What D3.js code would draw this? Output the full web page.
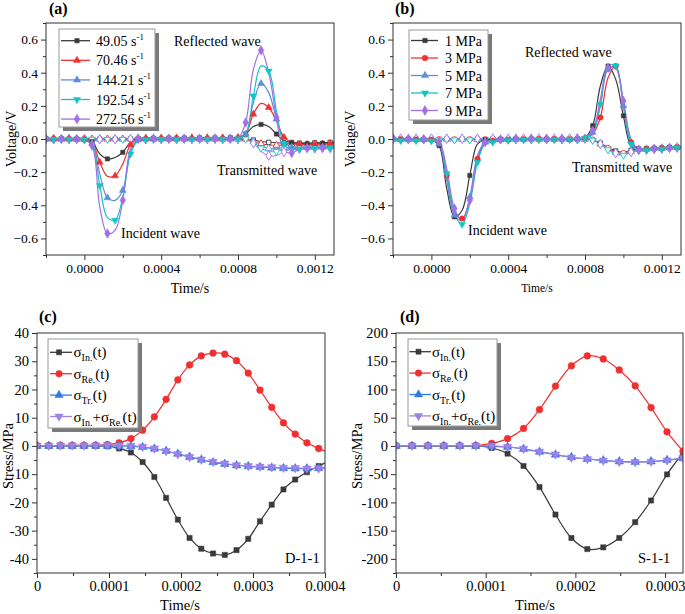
<!DOCTYPE html>
<html><head><meta charset="utf-8">
<script src="https://cdn.jsdelivr.net/npm/d3@7"></script>
<style>
body{margin:0;background:#fff}
svg{display:block}
text{font-family:"Liberation Serif","Times New Roman",serif;fill:#000}
</style>
</head><body>
<svg id="chart" width="685" height="614"></svg>
<script>
// ---------------- DATA ----------------
// Panels (a) and (b): shared time grid (s)
const timeAB = [-0.0002,-0.00016,-0.00012,-0.00008,-0.00004,0,0.00004,0.00008,0.00012,0.00016,0.0002,0.00024,0.00028,0.00032,0.00036,0.0004,0.00044,0.00048,0.00052,0.00056,0.0006,0.00064,0.00068,0.00072,0.00076,0.0008,0.00084,0.00088,0.00092,0.00096,0.001,0.00104,0.00108,0.00112,0.00116,0.0012,0.00124,0.00128,0.00132];

// (a) strain-rate series labels
const labelsA = ["49.05","70.46","144.21","192.54","272.56"];
// (a) incident + reflected waves (V)
const a_49  = [0.002,0.001,0.002,0.001,0,-0.002,-0.015,-0.09,-0.12,-0.112,-0.08,-0.02,0.003,0.004,0.005,0.005,0.006,0.006,0.006,0.007,0.007,0.007,0.007,0.008,0.008,0.01,0.03,0.075,0.088,0.075,0.03,-0.01,-0.02,-0.025,-0.028,-0.027,-0.025,-0.022,-0.02];
const a_70  = [0.001,0.002,0.001,0.002,0.001,-0.002,-0.02,-0.14,-0.225,-0.222,-0.15,-0.035,0.002,0.004,0.005,0.006,0.006,0.007,0.007,0.007,0.008,0.008,0.008,0.008,0.009,0.01,0.03,0.15,0.215,0.19,0.11,0.01,-0.02,-0.03,-0.032,-0.03,-0.03,-0.028,-0.027];
const a_144 = [0,0.001,0,0.001,0,-0.003,-0.025,-0.21,-0.355,-0.37,-0.31,-0.08,-0.005,0,0.002,0.003,0.003,0.003,0.004,0.004,0.004,0.004,0.005,0.005,0.005,0.006,0.03,0.22,0.335,0.28,0.12,-0.01,-0.05,-0.055,-0.052,-0.05,-0.05,-0.048,-0.047];
const a_192 = [-0.002,-0.003,-0.003,-0.002,-0.003,-0.004,-0.03,-0.28,-0.475,-0.49,-0.35,-0.09,-0.01,-0.004,-0.002,-0.002,-0.002,-0.001,-0.001,-0.001,-0.001,0,0,0,0,0.002,0.03,0.26,0.44,0.41,0.17,-0.03,-0.065,-0.06,-0.058,-0.057,-0.056,-0.055,-0.055];
const a_272 = [0.001,0.001,0.001,0.001,0,-0.004,-0.04,-0.41,-0.57,-0.55,-0.37,-0.06,0.004,0.003,0.003,0.002,0.002,0.002,0.002,0.002,0.002,0.002,0.002,0.002,0.002,0.004,0.1,0.42,0.535,0.4,0.13,-0.07,-0.085,-0.06,-0.055,-0.055,-0.055,-0.055,-0.055];
// (a) transmitted waves (V)
const aT_49  = [0.001,0,0.001,0,0.001,0,0.001,0,0.001,0,0.001,0,0.001,0,0.001,0,0.001,0,0.001,0,0.001,0,0.001,0,0.001,0,0,-0.006,-0.015,-0.02,-0.023,-0.025,-0.025,-0.025,-0.024,-0.023,-0.022,-0.02,-0.02];
const aT_70  = [0,0.001,0,0.001,0,0.001,0,0.001,0,0.001,0,0.001,0,0.001,0,0.001,0,0.001,0,0.001,0,0.001,0,0.001,0,0,0,-0.01,-0.028,-0.036,-0.038,-0.037,-0.035,-0.034,-0.033,-0.032,-0.031,-0.03,-0.03];
const aT_144 = [-0.001,0,-0.001,0,-0.001,0,-0.001,0,-0.001,0,-0.001,0,-0.001,0,-0.001,0,-0.001,0,-0.001,0,-0.001,0,-0.001,0,-0.001,0,0,-0.015,-0.042,-0.056,-0.058,-0.053,-0.05,-0.05,-0.05,-0.05,-0.048,-0.047,-0.046];
const aT_192 = [-0.002,-0.001,-0.002,-0.001,-0.002,-0.001,-0.002,-0.001,-0.002,-0.001,-0.002,-0.001,-0.002,-0.001,-0.002,-0.001,-0.002,-0.001,-0.002,-0.001,-0.002,-0.001,-0.002,-0.001,-0.002,-0.001,0,-0.02,-0.055,-0.075,-0.075,-0.063,-0.058,-0.056,-0.055,-0.055,-0.054,-0.053,-0.052];
const aT_272 = [0,-0.001,0,-0.001,0,-0.001,0,-0.001,0,-0.001,0,-0.001,0,-0.001,0,-0.001,0,-0.001,0,-0.001,0,-0.001,0,-0.001,0,-0.001,-0.002,-0.025,-0.075,-0.1,-0.1,-0.078,-0.062,-0.058,-0.056,-0.055,-0.055,-0.054,-0.053];

// (b) confining-pressure series labels
const labelsB = ["1 MPa","3 MPa","5 MPa","7 MPa","9 MPa"];
const b_1 = [0.003,0.001,0,-0.002,-0.003,-0.005,-0.04,-0.3,-0.47,-0.43,-0.22,-0.03,-0.005,-0.004,-0.002,0,0.001,0.001,0.001,0,0,0,0,0.001,0.002,0.008,0.08,0.32,0.44,0.36,0.14,-0.04,-0.06,-0.058,-0.055,-0.052,-0.05,-0.047,-0.045];
const b_3 = [0,-0.002,-0.002,-0.003,-0.004,-0.005,-0.02,-0.22,-0.44,-0.48,-0.37,-0.12,-0.02,-0.01,-0.006,-0.004,-0.002,-0.001,0,0,0,0,0,-0.001,0,0.004,0.03,0.13,0.37,0.44,0.22,-0.02,-0.055,-0.06,-0.058,-0.055,-0.052,-0.05,-0.047];
const b_5 = [-0.002,-0.003,-0.003,-0.004,-0.004,-0.006,-0.03,-0.25,-0.46,-0.49,-0.35,-0.1,-0.02,-0.012,-0.006,-0.003,-0.002,-0.001,0,0,0,0,0,0,0.001,0.005,0.04,0.2,0.42,0.43,0.2,-0.02,-0.06,-0.06,-0.057,-0.055,-0.052,-0.05,-0.047];
const b_7 = [-0.008,-0.01,-0.01,-0.01,-0.01,-0.012,-0.02,-0.21,-0.45,-0.515,-0.39,-0.14,-0.03,-0.02,-0.012,-0.008,-0.006,-0.004,-0.003,-0.003,-0.003,-0.003,-0.003,-0.002,0,0.004,0.03,0.21,0.44,0.44,0.2,-0.03,-0.07,-0.068,-0.064,-0.06,-0.056,-0.053,-0.05];
const b_9 = [0.006,0.004,0.003,0.001,0,-0.003,-0.015,-0.18,-0.42,-0.49,-0.37,-0.11,-0.02,-0.008,-0.002,0.002,0.004,0.004,0.004,0.004,0.003,0.003,0.003,0.004,0.005,0.01,0.05,0.24,0.43,0.43,0.23,0,-0.065,-0.065,-0.06,-0.057,-0.053,-0.05,-0.047];
const bT_1 = [0.002,0,0.002,0,0.002,0,0.002,0,0.002,0,0.002,0,0.002,0,0.002,0,0.002,0,0.002,0,0.002,0,0.002,0,0.002,0,-0.005,-0.025,-0.05,-0.072,-0.078,-0.068,-0.06,-0.058,-0.056,-0.054,-0.052,-0.05,-0.048];
const bT_3 = [-0.002,0,-0.002,0,-0.002,0,-0.002,0,-0.002,0,-0.002,0,-0.002,0,-0.002,0,-0.002,0,-0.002,0,-0.002,0,-0.002,0,-0.002,0,-0.004,-0.028,-0.055,-0.078,-0.085,-0.072,-0.063,-0.06,-0.058,-0.056,-0.053,-0.05,-0.048];
const bT_5 = [-0.003,-0.002,-0.003,-0.002,-0.003,-0.002,-0.003,-0.002,-0.003,-0.002,-0.003,-0.002,-0.003,-0.002,-0.003,-0.002,-0.003,-0.002,-0.003,-0.002,-0.003,-0.002,-0.003,-0.002,-0.003,-0.002,-0.006,-0.03,-0.058,-0.082,-0.09,-0.075,-0.066,-0.062,-0.06,-0.057,-0.054,-0.051,-0.049];
const bT_7 = [-0.006,-0.005,-0.006,-0.005,-0.006,-0.005,-0.006,-0.005,-0.006,-0.005,-0.006,-0.005,-0.006,-0.005,-0.006,-0.005,-0.006,-0.005,-0.006,-0.005,-0.006,-0.005,-0.006,-0.005,-0.006,-0.005,-0.008,-0.034,-0.065,-0.09,-0.098,-0.08,-0.07,-0.066,-0.063,-0.06,-0.057,-0.054,-0.051];
const bT_9 = [0.004,0.002,0.004,0.002,0.004,0.002,0.004,0.002,0.004,0.002,0.004,0.002,0.004,0.002,0.004,0.002,0.004,0.002,0.004,0.002,0.004,0.002,0.004,0.002,0.004,0.002,-0.005,-0.03,-0.06,-0.085,-0.095,-0.078,-0.068,-0.064,-0.061,-0.058,-0.055,-0.052,-0.049];

// (c) specimen D-1-1: time (s) and stresses (MPa)
const timeC = [0,0.0000163,0.0000326,0.0000489,0.0000652,0.0000815,0.0000978,0.0001141,0.0001304,0.0001467,0.000163,0.0001793,0.0001956,0.0002119,0.0002282,0.0002445,0.0002608,0.0002771,0.0002934,0.0003097,0.000326,0.0003423,0.0003586,0.0003749,0.0003912,0.0004075];
const c_in  = [0,0,0,0,0,0,-0.1,-0.9,-2.3,-5.7,-11,-18.4,-26.1,-32.6,-36.4,-38.1,-38.6,-36.9,-32.9,-26.7,-20.8,-15.4,-11.9,-9.3,-7.1,-5.2];
const c_re  = [0.1,0.1,0.2,0.2,0.2,0.3,0.5,1.1,2.6,5.6,10.3,16.5,23.4,28.7,31.9,32.9,32.5,30.2,25.8,19.8,13.7,8.2,4.2,1.1,-0.9,-2.5];
const c_tr  = [0,0,0,0,0,0,0,0,-0.1,-0.4,-1.0,-1.8,-2.8,-3.9,-4.9,-5.8,-6.4,-6.9,-7.2,-7.5,-7.7,-7.9,-8.0,-8.0,-7.9,-7.6];
const c_sum = [0.1,0.1,0.2,0.2,0.2,0.2,0.3,0.2,0.1,-0.3,-0.9,-1.8,-2.9,-3.9,-4.8,-5.6,-6.2,-6.8,-7.1,-7.3,-7.5,-7.7,-7.8,-8.0,-7.9,-7.6];

// (d) specimen S-1-1
const timeD = [0,0.0000178,0.0000356,0.0000533,0.0000711,0.0000889,0.0001067,0.0001244,0.0001422,0.00016,0.0001778,0.0001956,0.0002133,0.0002311,0.0002489,0.0002667,0.0002844,0.0003022,0.00032];
const d_in  = [0,0,0,0,0,0,-3.6,-13.6,-35.5,-72.9,-121.5,-163,-182.6,-179.6,-163,-135,-96.6,-50.4,-12];
const d_re  = [0.5,0.5,0.5,0.5,0.5,0.8,4.5,13,31,64.5,106,142,159.5,154,134.5,106.5,68,25,-9];
const d_tr  = [0,0,0,0,0,0,-0.5,-1.8,-5.5,-10.5,-15.5,-20,-23,-25.5,-27.5,-28.5,-27.5,-25,-22];
const d_sum = [0.5,0.5,0.5,0.5,0.5,0.5,0,-1.5,-5,-10,-15,-20.5,-23,-25.8,-28,-28.5,-27.8,-25.5,-21];

// ticks
const tickAB_x = [0,0.0004,0.0008,0.0012];
const tickAB_xMinor = [-0.0002,0.0002,0.0006,0.001];
const tickAB_y = [-0.6,-0.4,-0.2,0,0.2,0.4,0.6];
const tickAB_yMinor = [-0.7,-0.5,-0.3,-0.1,0.1,0.3,0.5,0.7];
const tickC_x = [0,0.0001,0.0002,0.0003,0.0004];
const tickC_xMinor = [0.00005,0.00015,0.00025,0.00035];
const tickC_y = [-40,-30,-20,-10,0,10,20,30,40];
const tickC_yMinor = [-45,-35,-25,-15,-5,5,15,25,35];
const tickD_x = [0,0.0001,0.0002,0.0003];
const tickD_xMinor = [0.00005,0.00015,0.00025];
const tickD_y = [-200,-150,-100,-50,0,50,100,150,200];
const tickD_yMinor = [-225,-175,-125,-75,-25,25,75,125,175];

// ---------------- STYLE ----------------
const COL = {black:"#3a3a3a", red:"#f03030", blue:"#5b8fd8", cyan:"#14c4c4", purple:"#a070e6", blue2:"#2f7ae5", purple2:"#9d80e8"};
const svg = d3.select("#chart");
const defs = svg.append("defs");

function sym(type, size){ return d3.symbol().type(type).size(size)(); }
const SYM = {
  square:[d3.symbolSquare,26], tri:[d3.symbolTriangle,30], circle:[d3.symbolCircle,34],
  diamond:[d3.symbolDiamond,38], tridown:[d3.symbolTriangle,30]
};
function marker(g, x, y, shape, color, hollow, scale){
  const s = SYM[shape];
  g.append("path").attr("d", sym(s[0], s[1]*(scale||1)))
   .attr("transform", `translate(${x},${y})` + (shape==="tridown" ? " rotate(180)" : ""))
   .attr("fill", hollow ? "#fff" : color).attr("stroke", color).attr("stroke-width", hollow?0.9:0.5);
}

function drawPanel(p){
  const x = d3.scaleLinear().domain(p.xDomain).range([p.left, p.right]);
  const y = d3.scaleLinear().domain(p.yDomain).range([p.bottom, p.top]);
  const g = svg.append("g");
  defs.append("clipPath").attr("id","clip"+p.id).append("rect")
    .attr("x",p.left).attr("y",p.top).attr("width",p.right-p.left).attr("height",p.bottom-p.top);

  const styleAxis = sel => {
    sel.select(".domain").remove();
    sel.selectAll("line").attr("stroke","#333").attr("stroke-width",1);
    sel.selectAll("text").style("font-family",'"Liberation Serif","Times New Roman",serif')
       .style("font-size",p.tickFont+"px").attr("fill","#000");
  };
  g.append("g").attr("transform",`translate(0,${p.bottom})`)
    .call(d3.axisBottom(x).tickValues(p.xMajor).tickFormat(p.xFmt).tickSize(5).tickPadding(3)).call(styleAxis);
  g.append("g").attr("transform",`translate(0,${p.bottom})`)
    .call(d3.axisBottom(x).tickValues(p.xMinor).tickFormat("").tickSize(3)).call(styleAxis);
  g.append("g").attr("transform",`translate(${p.left},0)`)
    .call(d3.axisLeft(y).tickValues(p.yMajor).tickFormat(p.yFmt).tickSize(5).tickPadding(3)).call(styleAxis);
  g.append("g").attr("transform",`translate(${p.left},0)`)
    .call(d3.axisLeft(y).tickValues(p.yMinor).tickFormat("").tickSize(3)).call(styleAxis);

  const plot = g.append("g").attr("clip-path",`url(#clip${p.id})`);
  p.series.forEach(s=>{
    const pts = s.t.map((t,i)=>[x(t), y(s.v[i])]);
    plot.append("path").attr("d", d3.line().curve(d3.curveCatmullRom.alpha(0.5))(pts))
      .attr("fill","none").attr("stroke", s.color).attr("stroke-width", s.width||1.2);
  });
  p.series.forEach(s=>{
    const pts = s.t.map((t,i)=>[x(t), y(s.v[i])]);
    pts.forEach((d,i)=>{ if(i % s.every === s.offset) marker(plot, d[0], d[1], s.shape, s.color, s.hollow, p.mscale); });
  });

  g.append("rect").attr("x",p.left).attr("y",p.top).attr("width",p.right-p.left).attr("height",p.bottom-p.top)
    .attr("fill","none").attr("stroke","#333").attr("stroke-width",1);
  return {x,y,g};
}

function text(x, y, str, size, opts={}){
  const t = svg.append("text").attr("x",x).attr("y",y).style("font-size",size+"px").text(str);
  if(opts.anchor) t.attr("text-anchor",opts.anchor);
  if(opts.bold) t.style("font-weight","bold");
  if(opts.rotate) t.attr("transform",`rotate(-90,${x},${y})`);
  return t;
}

function legend(L){
  svg.append("rect").attr("x",L.x+4).attr("y",L.y+4).attr("width",L.w).attr("height",L.h).attr("fill","#7a7a7a");
  svg.append("rect").attr("x",L.x).attr("y",L.y).attr("width",L.w).attr("height",L.h).attr("fill","#fff").attr("stroke","#9a9a9a").attr("stroke-width",1);
  const g = svg.append("g");
  L.items.forEach((it,i)=>{
    const cy = L.y0 + i*L.dy;
    g.append("line").attr("x1",L.lx1).attr("x2",L.lx2).attr("y1",cy).attr("y2",cy).attr("stroke",it.color).attr("stroke-width",1.3);
    marker(g, L.mx, cy, it.shape, it.color, false, L.mscale);
    const t = g.append("text").attr("x",L.tx).attr("y",cy+5).style("font-size",L.font+"px");
    it.build(t);
  });
}

// ---------------- PANELS ----------------
const fmtV = d => d3.format(".1f")(d);
const fmtT4 = d => d3.format(".4f")(d);
const fmtT0 = d => d===0 ? "0" : d3.format(".4f")(d);
const fmtHy = d => String(d);

const shapesA = ["square","tri","tri","tridown","diamond"];
const shapesB = ["square","circle","tri","tridown","diamond"];
const colorsAB = [COL.black,COL.red,COL.blue,COL.cyan,COL.purple];
const mainA = [a_49,a_70,a_144,a_192,a_272], trA = [aT_49,aT_70,aT_144,aT_192,aT_272];
const mainB = [b_1,b_3,b_5,b_7,b_9], trB = [bT_1,bT_3,bT_5,bT_7,bT_9];

function abSeries(main, tr, shapes){
  const out = [];
  tr.forEach((v,i)=>out.push({t:timeAB, v, color:colorsAB[i], shape:shapes[i], hollow:true, every:2, offset:(i+1)%2, width:1}));
  main.forEach((v,i)=>out.push({t:timeAB, v, color:colorsAB[i], shape:shapes[i], hollow:false, every:2, offset:i%2, width:1.2}));
  return out;
}

drawPanel({id:"a", left:46, right:334, top:23, bottom:255, xDomain:[-0.0002,0.0013], yDomain:[-0.7,0.7],
  xMajor:tickAB_x, xMinor:tickAB_xMinor, yMajor:tickAB_y, yMinor:tickAB_yMinor, xFmt:fmtT4, yFmt:fmtV, tickFont:13.5, mscale:0.7,
  series:abSeries(mainA, trA, shapesA)});
drawPanel({id:"b", left:393, right:681, top:23, bottom:255, xDomain:[-0.0002,0.0013], yDomain:[-0.7,0.7],
  xMajor:tickAB_x, xMinor:tickAB_xMinor, yMajor:tickAB_y, yMinor:tickAB_yMinor, xFmt:fmtT4, yFmt:fmtV, tickFont:13.5, mscale:0.7,
  series:abSeries(mainB, trB, shapesB)});

const stressColors = [COL.black, COL.red, COL.blue2, COL.purple2];
const stressShapes = ["square","circle","tri","tridown"];
drawPanel({id:"c", left:37, right:325, top:333, bottom:573, xDomain:[0,0.0004], yDomain:[-45,40],
  xMajor:tickC_x, xMinor:tickC_xMinor, yMajor:tickC_y, yMinor:tickC_yMinor, xFmt:fmtT0, yFmt:fmtHy, tickFont:14.5, mscale:1.05,
  series:[c_in,c_re,c_tr,c_sum].map((v,i)=>({t:timeC, v, color:stressColors[i], shape:stressShapes[i], hollow:false, every:1, offset:0, width:1.2}))});
drawPanel({id:"d", left:396, right:683, top:333, bottom:573, xDomain:[0,0.00032], yDomain:[-225,200],
  xMajor:tickD_x, xMinor:tickD_xMinor, yMajor:tickD_y, yMinor:tickD_yMinor, xFmt:fmtT0, yFmt:fmtHy, tickFont:14.5, mscale:1.05,
  series:[d_in,d_re,d_tr,d_sum].map((v,i)=>({t:timeD, v, color:stressColors[i], shape:stressShapes[i], hollow:false, every:1, offset:0, width:1.2}))});

// ---------------- LABELS ----------------
text(49,14,"(a)",16,{bold:true});
text(395,14,"(b)",16,{bold:true});
text(39,322,"(c)",16,{bold:true});
text(400,322,"(d)",16,{bold:true});

text(16,139,"Voltage/V",14,{anchor:"middle",rotate:true});
text(355,139,"Voltage/V",14,{anchor:"middle",rotate:true});
text(190,293,"Time/s",14,{anchor:"middle"});
text(537,292,"Time/s",11.5,{anchor:"middle"});
text(13,456,"Stress/MPa",14.5,{anchor:"middle",rotate:true});
text(362,456,"Stress/MPa",14.5,{anchor:"middle",rotate:true});
text(180,610,"Time/s",14.5,{anchor:"middle"});
text(535,610,"Time/s",14.5,{anchor:"middle"});

text(174,46,"Reflected wave",14);
text(217,175,"Transmitted wave",14);
text(121,238,"Incident wave",14);
text(525,57,"Reflected wave",14);
text(572,172,"Transmitted wave",14);
text(468,235,"Incident wave",14);
text(285,563,"D-1-1",14.5);
text(638,563,"S-1-1",14.5);

// legends
legend({x:59,y:29,w:96,h:98,y0:40.7,dy:19.6,lx1:61,lx2:90,mx:77,tx:96,font:14,mscale:0.75,
  items:labelsA.map((lab,i)=>({color:colorsAB[i], shape:shapesA[i], build:t=>{
    t.append("tspan").text(lab+" s");
    t.append("tspan").attr("dy",-6).style("font-size","9px").text("-1");
  }}))});
legend({x:409,y:30,w:79,h:90,y0:40.5,dy:17.5,lx1:411,lx2:438,mx:425,tx:445,font:14,mscale:0.75,
  items:labelsB.map((lab,i)=>({color:colorsAB[i], shape:shapesB[i], build:t=>{ t.text(lab); }}))});

const stressLabels = [["In."],["Re."],["Tr."],["In.","Re."]];
function sigmaBuild(subs){
  return t=>{
    subs.forEach((s,j)=>{
      t.append("tspan").attr("dy", j===0?0:-4).text(j===0?"σ":"+σ");
      t.append("tspan").attr("dy",4).style("font-size","10px").text(s);
    });
    t.append("tspan").attr("dy",-4).text("(t)");
  };
}
legend({x:48,y:339,w:90,h:89,y0:352.3,dy:21.4,lx1:50,lx2:72,mx:59,tx:73.5,font:15,mscale:1,
  items:stressLabels.map((s,i)=>({color:stressColors[i], shape:stressShapes[i], build:sigmaBuild(s)}))});
legend({x:408,y:339,w:89,h:87,y0:351.7,dy:21.4,lx1:409.5,lx2:431,mx:418.5,tx:432,font:15,mscale:1,
  items:stressLabels.map((s,i)=>({color:stressColors[i], shape:stressShapes[i], build:sigmaBuild(s)}))});
</script>
</body></html>
